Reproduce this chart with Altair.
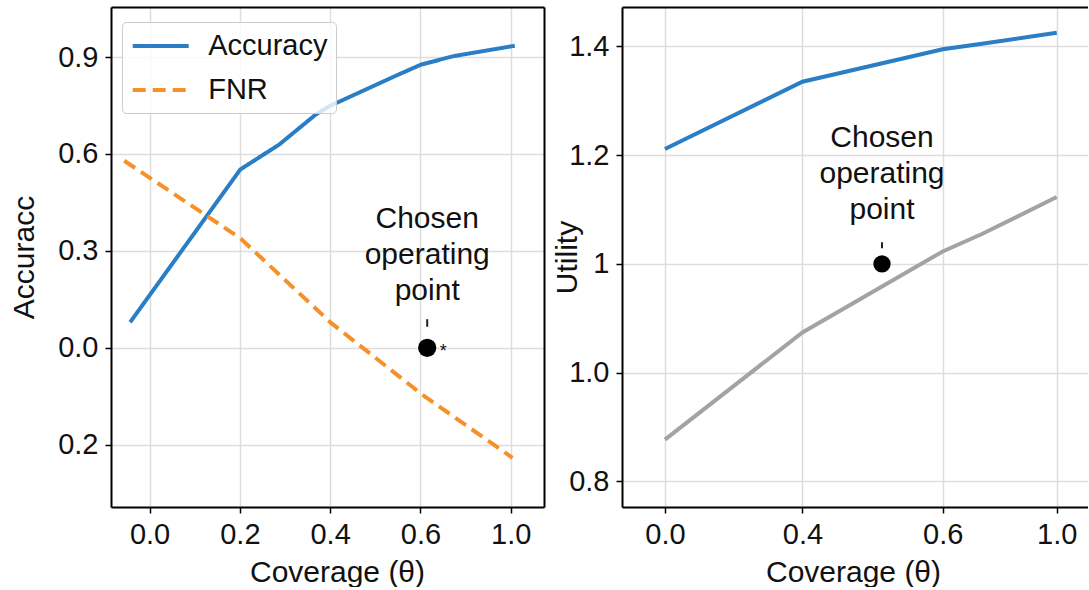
import altair as alt
import pandas as pd

# ---------------- data ----------------
SERIES = ["Accuracy", "FNR"]
ACC_X = [-0.043, 0.201, 0.287, 0.368, 0.400, 0.550, 0.602, 0.674, 0.809]
ACC_Y = [0.079, 0.552, 0.629, 0.722, 0.749, 0.845, 0.877, 0.903, 0.935]
FNR_X = [-0.056, 0.201, 0.402, 0.603, 0.804]
FNR_Y = [0.579, 0.339, 0.077, -0.144, -0.341]
LEFT_X_TICKS = [0, 0.2, 0.4, 0.6, 0.8]
LEFT_X_LABELS = ["0.0", "0.2", "0.4", "0.6", "1.0"]
LEFT_Y_TICKS = [0.9, 0.6, 0.3, 0.0, -0.3]
LEFT_Y_LABELS = ["0.9", "0.6", "0.3", "0.0", "0.2"]
LEFT_POINT_X = [0.615]
LEFT_POINT_Y = [0.0]

UTIL_X = [0.0, 0.351, 0.709, 0.809, 1.0]
UTIL_UPPER = [1.2115, 1.335, 1.3947, 1.405, 1.425]
UTIL_LOWER = [0.677, 0.874, 1.023, 1.055, 1.123]
RIGHT_X_TICKS = [0.0, 0.351, 0.709, 1.0]
RIGHT_X_LABELS = ["0.0", "0.4", "0.6", "1.0"]
RIGHT_Y_TICKS = [1.4, 1.2, 1.0, 0.8, 0.6]
RIGHT_Y_LABELS = ["1.4", "1.2", "1", "1.0", "0.8"]
RIGHT_POINT_X = [0.554]
RIGHT_POINT_Y = [1.0]

ANNOT_LINES = ["Chosen", "operating", "point"]

# ---------------- style ----------------
FONT = "Liberation Sans"
BLUE = "#2a7ec6"
ORANGE = "#f5902a"
GRAY = "#a3a3a3"
INK = "#111111"
LW = 4


def label_expr(ticks, labels):
    return f"{labels}[indexof({ticks}, datum.value)]"


def frame_axis(orient):
    return alt.Axis(orient=orient, labels=False, ticks=False, grid=False,
                    domain=True, title=None)


# ---------------- left panel ----------------
left_df = pd.DataFrame({
    "x": ACC_X + FNR_X,
    "y": ACC_Y + FNR_Y,
    "series": [SERIES[0]] * len(ACC_X) + [SERIES[1]] * len(FNR_X),
})
left_pt = pd.DataFrame({"x": LEFT_POINT_X, "y": LEFT_POINT_Y})

lxs = alt.Scale(domain=[-0.0854, 0.8737], nice=False, zero=False)
lys = alt.Scale(domain=[-0.493, 1.055], nice=False, zero=False)

legend = alt.Legend(
    title=None, orient="none", legendX=11, legendY=15,
    symbolType="M-2,0H2", symbolSize=784, symbolStrokeWidth=LW,
    symbolOffset=14.7, labelOffset=31.5,
    labelFont=FONT, labelFontSize=29, labelColor=INK,
    fillColor="rgba(255,255,255,0.8)", strokeColor="#cccccc",
    cornerRadius=4, padding=8, rowPadding=13,
)

left_lines = alt.Chart(left_df).mark_line(strokeWidth=LW, strokeCap="butt").encode(
    x=alt.X("x:Q", scale=lxs, axis=alt.Axis(
        values=LEFT_X_TICKS, labelExpr=label_expr(LEFT_X_TICKS, LEFT_X_LABELS),
        title="Coverage (θ)", titleX=226, titleY=74, titleAlign="center",
        titleBaseline="alphabetic")),
    y=alt.Y("y:Q", scale=lys, axis=alt.Axis(
        values=LEFT_Y_TICKS, labelExpr=label_expr(LEFT_Y_TICKS, LEFT_Y_LABELS),
        title="Accuracc", titleX=-87, titleY=250, titleAngle=270,
        titleAlign="center", titleBaseline="middle")),
    color=alt.Color("series:N", scale=alt.Scale(domain=SERIES, range=[BLUE, ORANGE]),
                    legend=legend),
    strokeDash=alt.StrokeDash("series:N", scale=alt.Scale(domain=SERIES, range=[[1, 0], [13, 7]]),
                              legend=legend),
)

left_dot = alt.Chart(left_pt).mark_circle(size=333, color="black", opacity=1).encode(
    x=alt.X("x:Q", scale=lxs, axis=frame_axis("top")),
    y=alt.Y("y:Q", scale=lys, axis=frame_axis("right")),
)


def annot_layers(pt_df, xs, ys, dys, tick_offsets, star):
    layers = []
    for line, dy in zip(ANNOT_LINES, dys):
        layers.append(alt.Chart(pt_df).mark_text(
            text=line, font=FONT, fontSize=30, color=INK, align="center",
            baseline="alphabetic", dy=dy).encode(
            x=alt.X("x:Q", scale=xs, axis=None), y=alt.Y("y:Q", scale=ys, axis=None)))
    layers.append(alt.Chart(pt_df).mark_rule(
        color="#222222", strokeWidth=2, yOffset=tick_offsets[0], y2Offset=tick_offsets[1]).encode(
        x=alt.X("x:Q", scale=xs, axis=None), y=alt.Y("y:Q", scale=ys, axis=None), y2="y"))
    if star:
        layers.append(alt.Chart(pt_df).mark_text(
            text="*", font=FONT, fontSize=18, color=INK, align="center",
            baseline="alphabetic", dx=16, dy=9).encode(
            x=alt.X("x:Q", scale=xs, axis=None), y=alt.Y("y:Q", scale=ys, axis=None)))
    return layers


left = alt.layer(
    left_lines, left_dot,
    *annot_layers(left_pt, lxs, lys, [-120, -84, -47.5], [-28.6, -21], True),
).resolve_axis(x="independent", y="independent").properties(width=433, height=500)

# ---------------- right panel ----------------
right_df = pd.DataFrame({"x": UTIL_X, "upper": UTIL_UPPER, "lower": UTIL_LOWER})
right_pt = pd.DataFrame({"x": RIGHT_POINT_X, "y": RIGHT_POINT_Y})

rxs = alt.Scale(domain=[-0.1096, 1.0798], nice=False, zero=False)
rys = alt.Scale(domain=[0.553, 1.4725], nice=False, zero=False)

right_upper = alt.Chart(right_df).mark_line(strokeWidth=LW, color=BLUE).encode(
    x=alt.X("x:Q", scale=rxs, axis=alt.Axis(
        values=RIGHT_X_TICKS, labelExpr=label_expr(RIGHT_X_TICKS, RIGHT_X_LABELS),
        title="Coverage (θ)", titleX=231, titleY=74, titleAlign="center",
        titleBaseline="alphabetic")),
    y=alt.Y("upper:Q", scale=rys, axis=alt.Axis(
        values=RIGHT_Y_TICKS, labelExpr=label_expr(RIGHT_Y_TICKS, RIGHT_Y_LABELS),
        title="Utility", titleX=-55, titleY=250, titleAngle=270,
        titleAlign="center", titleBaseline="middle")),
)

right_lower = alt.Chart(right_df).mark_line(strokeWidth=LW, color=GRAY).encode(
    x=alt.X("x:Q", scale=rxs, axis=None),
    y=alt.Y("lower:Q", scale=rys, axis=None),
)

right_dot = alt.Chart(right_pt).mark_circle(size=300, color="black", opacity=1).encode(
    x=alt.X("x:Q", scale=rxs, axis=frame_axis("top")),
    y=alt.Y("y:Q", scale=rys, axis=None),
)

right = alt.layer(
    right_upper, right_lower, right_dot,
    *annot_layers(right_pt, rxs, rys, [-117, -81, -44.5], [-21.7, -15.7], False),
).resolve_axis(x="independent", y="independent").properties(width=466, height=500)

chart = alt.hconcat(left, right, spacing=8).resolve_scale(
    color="independent", strokeDash="independent"
).properties(
    padding={"left": 9, "top": 7, "right": 0, "bottom": 0},
    background="white",
).configure_view(stroke=None).configure_axis(
    domainColor="black", domainWidth=2, tickColor="black", tickWidth=1.5, tickSize=6,
    gridColor="#dddddd", gridWidth=1.5, labelFont=FONT, labelFontSize=29,
    labelColor=INK, labelPadding=7, titleFont=FONT, titleFontSize=30,
    titleFontWeight="normal", titleColor=INK,
)

chart.save("out.html", embed_options={"renderer": "svg", "actions": False})
